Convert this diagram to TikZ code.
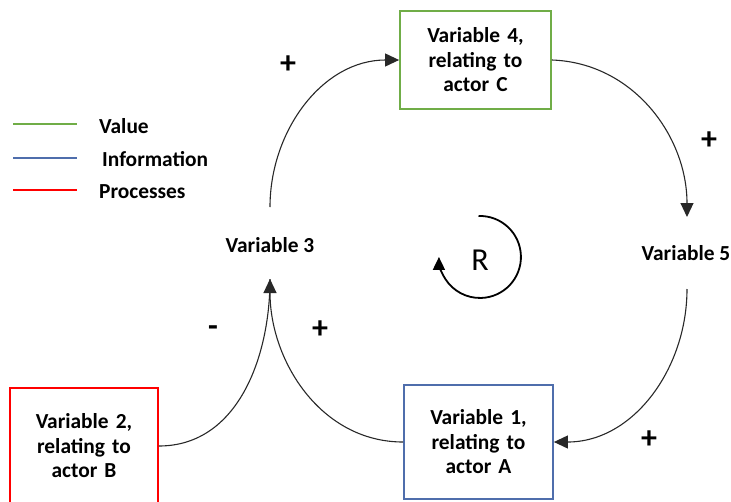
\documentclass[tikz,border=0pt]{standalone}
\usepackage{fontspec}
\setmainfont{Carlito}
\usetikzlibrary{arrows.meta}
\definecolor{valgreen}{RGB}{112,173,71}
\definecolor{infoblue}{RGB}{79,110,172}
\definecolor{procred}{RGB}{255,0,0}
\definecolor{linkgray}{RGB}{40,40,40}
\tikzset{
  lbl/.style={font=\bfseries\fontsize{21.4}{24.5}\selectfont, align=center, inner sep=0pt},
  varbox/.style={lbl, draw, line width=1.8pt, text width=140pt},
  link/.style={draw=linkgray, line width=1.1pt, -{Triangle[length=14pt,width=13pt]}},
  plain/.style={draw=linkgray, line width=1.1pt},
  sign/.style={font=\bfseries\fontsize{32}{34}\selectfont, inner sep=0pt},
  legline/.style={line width=1.8pt},
  legtext/.style={lbl, anchor=west}
}
\begin{document}
\begin{tikzpicture}[x=1pt,y=-1pt]
\useasboundingbox (0,0) rectangle (731,501);

% legend
\coordinate (lg1a) at (13,124); \coordinate (lg1b) at (77,124);
\coordinate (lg2a) at (13,158); \coordinate (lg2b) at (77,158);
\coordinate (lg3a) at (13,190); \coordinate (lg3b) at (77,190);
\draw[legline, valgreen] (lg1a) -- (lg1b);
\draw[legline, infoblue] (lg2a) -- (lg2b);
\draw[legline, procred] (lg3a) -- (lg3b);
\node[legtext] (tvalue) at (99,126) {Value};
\node[legtext] (tinfo) at (102,159) {Information};
\node[legtext] (tproc) at (99,192) {Processes};

% variables
\node[varbox, draw=valgreen, minimum width=151pt, minimum height=98pt] (v4) at (475.5,60) {Variable 4,\\relating to\\actor C};
\node[varbox, draw=procred, minimum width=148pt, minimum height=116pt] (v2) at (84,446) {Variable 2,\\relating to\\actor B};
\node[varbox, draw=infoblue, minimum width=149pt, minimum height=114pt] (v1) at (478.5,442) {Variable 1,\\relating to\\actor A};
\node[lbl] (v3) at (270,245) {Variable 3};
\node[lbl] (v5) at (686,253) {Variable 5};

% connector ends at the free-standing variables
\coordinate (v3top) at (270,207);
\coordinate (v3bot) at (270,279);
\coordinate (v5top) at (687,217);
\coordinate (v5bot) at (687,289);

% causal links
\draw[link] (v3top) to[out=90,in=180] (v4.west);
\draw[link] (v4.east) to[out=-2,in=90] (v5top);
\draw[link] (v5bot) to[out=-90,in=0] (v1.east);
\draw[link] (v1.west) to[out=180,in=-90] (v3bot);
\draw[plain] (v2.east) to[out=0,in=-90] (v3bot);

% polarities
\node[sign] (p1) at (288,65) {+};
\node[sign] (p2) at (709,141) {+};
\node[sign] (p3) at (649,440) {+};
\node[sign] (p4) at (320,330) {+};
\node[sign] (m1) at (213,331) {-};

% reinforcing loop marker (y axis points down, so angles run clockwise)
\node[font=\fontsize{32}{34}\selectfont, inner sep=0pt] (loopR) at (480,260) {R};
\coordinate (rstart) at (478.5,216);
\draw[line width=1.8pt, -{Triangle[length=13pt,width=12pt]}] (rstart) arc[start angle=-92, end angle=180, radius=41];
\end{tikzpicture}
\end{document}
